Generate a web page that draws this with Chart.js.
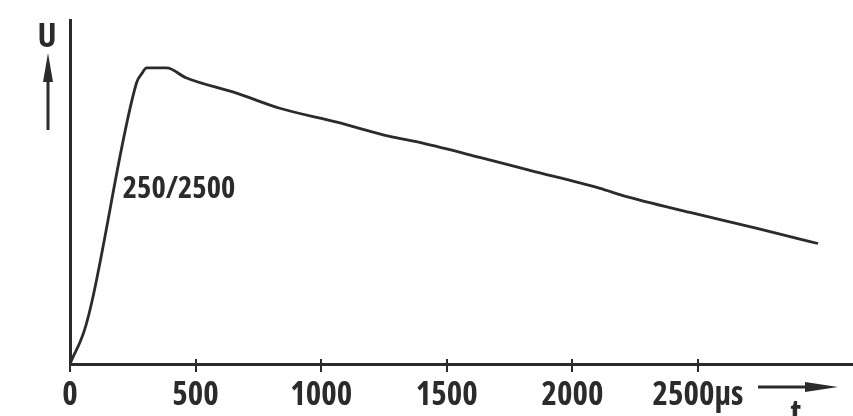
<!DOCTYPE html>
<html>
<head>
<meta charset="utf-8">
<script src="https://cdn.jsdelivr.net/npm/chart.js@4/dist/chart.umd.min.js"></script>
<style>
  html, body { margin: 0; padding: 0; background: #ffffff; }
  #c { display: block; }
</style>
</head>
<body>
<canvas id="c" width="853" height="416"></canvas>
<script>
// ---- data (t in µs, U in % of peak) ----
const timeUs = [0, 10, 38, 58, 86, 265, 285, 305, 384, 464, 663, 835, 1062, 1273, 1404, 1631, 1831, 2110, 2201, 2468, 2735, 2894, 2978];
const voltage = [0, 2, 7, 11.5, 20.6, 95, 98, 100, 100, 96.6, 91.5, 86.4, 81.7, 76.9, 74.6, 69.8, 65.4, 59.3, 56.9, 51.2, 45.8, 42.4, 40.7];
const tickValues = [0, 500, 1000, 1500, 2000, 2500];
const tickLabels = ['0', '500', '1000', '1500', '2000', '2500µs'];
const waveLabel = '250/2500';
const yAxisLabel = 'U';
const xAxisLabel = 't';

const INK = '#2b2b2b';
const FONT_FAMILY = "'Open Sans', 'Liberation Sans', sans-serif";
const FONT_WEIGHT = 'bold condensed';

const points = timeUs.map((t, i) => ({ x: t, y: voltage[i] }));

const decorations = {
  id: 'decorations',
  afterDraw(chart) {
    const ctx = chart.ctx;
    const xs = chart.scales.x, ys = chart.scales.y;
    const base = chart.chartArea.bottom;
    ctx.save();
    ctx.fillStyle = INK;
    ctx.strokeStyle = INK;

    // upper half of the crossing tick marks on the time axis
    ctx.lineWidth = 2;
    tickValues.slice(1).forEach(v => {
      const px = Math.round(xs.getPixelForValue(v));
      ctx.beginPath();
      ctx.moveTo(px, base - 5);
      ctx.lineTo(px, base);
      ctx.stroke();
    });

    // curve label next to the wave front
    ctx.font = FONT_WEIGHT + ' 30.5px ' + FONT_FAMILY;
    ctx.textAlign = 'left';
    ctx.textBaseline = 'alphabetic';
    ctx.fillText(waveLabel, xs.getPixelForValue(210), ys.getPixelForValue(56.1));

    // U with upward arrow
    ctx.font = FONT_WEIGHT + ' 34px ' + FONT_FAMILY;
    ctx.textAlign = 'center';
    ctx.fillText(yAxisLabel, 47, 47);
    ctx.lineWidth = 3;
    ctx.beginPath();
    ctx.moveTo(48, 130);
    ctx.lineTo(48, 70);
    ctx.stroke();
    ctx.beginPath();
    ctx.moveTo(48, 53);
    ctx.lineTo(53, 82);
    ctx.lineTo(43, 82);
    ctx.closePath();
    ctx.fill();

    // t with rightward arrow
    ctx.beginPath();
    ctx.moveTo(758, 387);
    ctx.lineTo(815, 387);
    ctx.stroke();
    ctx.beginPath();
    ctx.moveTo(838, 387);
    ctx.lineTo(805, 382);
    ctx.lineTo(805, 392);
    ctx.closePath();
    ctx.fill();
    ctx.font = FONT_WEIGHT + ' 34px ' + FONT_FAMILY;
    ctx.textAlign = 'center';
    ctx.fillText(xAxisLabel, 796, 424);
    ctx.restore();
  }
};

new Chart(document.getElementById('c'), {
  type: 'line',
  data: {
    datasets: [{
      data: points,
      borderColor: INK,
      borderWidth: 2.8,
      pointRadius: 0,
      fill: false,
      cubicInterpolationMode: 'monotone'
    }]
  },
  options: {
    responsive: false,
    animation: false,
    devicePixelRatio: 1,
    layout: { padding: { top: 20, right: 0, left: 0, bottom: 0 } },
    plugins: { legend: { display: false }, tooltip: { enabled: false }, title: { display: false } },
    scales: {
      x: {
        type: 'linear',
        min: 0,
        max: 3117,
        afterBuildTicks: (scale) => { scale.ticks = tickValues.map(v => ({ value: v })); },
        afterFit: (scale) => { scale.height = 52; },
        ticks: {
          autoSkip: false,
          maxRotation: 0,
          padding: 7,
          color: INK,
          font: { family: FONT_FAMILY, size: 33, weight: FONT_WEIGHT, lineHeight: 1 },
          callback: (value, index) => tickLabels[index]
        },
        grid: { drawOnChartArea: false, drawTicks: true, tickLength: 8, color: INK, lineWidth: 2 },
        border: { display: true, color: INK, width: 3 }
      },
      y: {
        min: 0,
        max: 116.2,
        afterFit: (scale) => { scale.width = 70; },
        ticks: { display: false },
        grid: { display: false, drawTicks: false },
        border: { display: true, color: INK, width: 3 }
      }
    }
  },
  plugins: [decorations]
});
</script>
</body>
</html>
